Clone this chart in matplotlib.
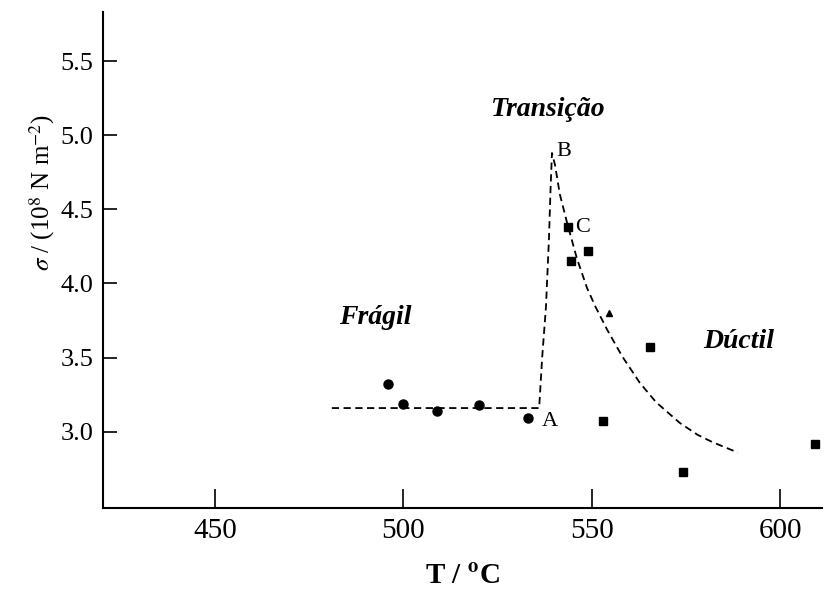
import matplotlib
matplotlib.use('Agg')
import matplotlib.pyplot as plt

plt.rcParams['font.family'] = ['Liberation Serif', 'DejaVu Serif']
plt.rcParams['mathtext.fontset'] = 'stix'

# measured points
T_circ = [496, 500, 509, 520, 533]
s_circ = [3.32, 3.19, 3.14, 3.18, 3.09]
T_sq = [543.6, 544.5, 549, 553, 565.4, 574.1, 609.2]
s_sq = [4.38, 4.15, 4.22, 3.07, 3.57, 2.73, 2.92]
T_tri = [554.5]
s_tri = [3.80]

# dashed guide curve
T_curve = [481, 490, 500, 510, 520, 530, 536, 536.8, 537.8, 538.6, 539.0, 539.4,
           540.2, 541.5, 543.4, 546, 548.7, 551, 554, 558, 562.7, 567, 573.3, 578, 582, 588.7]
s_curve = [3.16, 3.16, 3.16, 3.16, 3.16, 3.16, 3.16, 3.5, 3.84, 4.3, 4.62, 4.88,
           4.80, 4.6, 4.41, 4.17, 3.97, 3.84, 3.69, 3.51, 3.33, 3.2, 3.06, 2.98, 2.93, 2.86]

xticks = [450, 500, 550, 600]
yticks = [3.0, 3.5, 4.0, 4.5, 5.0, 5.5]

fig = plt.figure(figsize=(8.26, 5.89), dpi=100)
ax = fig.add_axes([0.1247, 0.1375, 0.8703, 0.842])

ax.plot(T_curve, s_curve, color='black', lw=1.3, linestyle=(0, (4, 2.5)))
ax.plot(T_circ, s_circ, 'o', color='black', ms=6.5)
ax.plot(T_sq, s_sq, 's', color='black', ms=6)
ax.plot(T_tri, s_tri, '^', color='black', ms=4)

ax.text(540.5, 4.89, 'B', fontsize=16, ha='left', va='center')
ax.text(545.5, 4.38, 'C', fontsize=16, ha='left', va='center')
ax.text(536.6, 3.07, 'A', fontsize=16, ha='left', va='center')

lab = dict(fontsize=20, fontweight='bold', fontstyle='italic', ha='center', va='center')
ax.text(492.4, 3.77, 'Frágil', **lab)
ax.text(538.3, 5.17, 'Transição', **lab)
ax.text(588.9, 3.61, 'Dúctil', **lab)

ax.set_xlim(420.3, 611)
ax.set_ylim(2.486, 5.83)
ax.set_xticks(xticks)
ax.set_xticklabels([str(t) for t in xticks])
ax.set_yticks(yticks)
ax.set_yticklabels(['%.1f' % t for t in yticks])
ax.tick_params(axis='x', direction='in', length=14, width=1.2, labelsize=21, pad=7)
ax.tick_params(axis='y', direction='in', length=10, width=1.2, labelsize=19, pad=7)

for side in ['top', 'right']:
    ax.spines[side].set_visible(False)
for side in ['left', 'bottom']:
    ax.spines[side].set_linewidth(1.5)

ax.set_xlabel('T / $^{\\mathbf{o}}$C', fontsize=21, fontweight='bold', labelpad=14)
ax.set_ylabel('$\\sigma$ / (10$^{8}$ N m$^{-2}$)', fontsize=18)
ax.yaxis.set_label_coords(-0.064, 0.637)

fig.savefig('out.png', dpi=100)
